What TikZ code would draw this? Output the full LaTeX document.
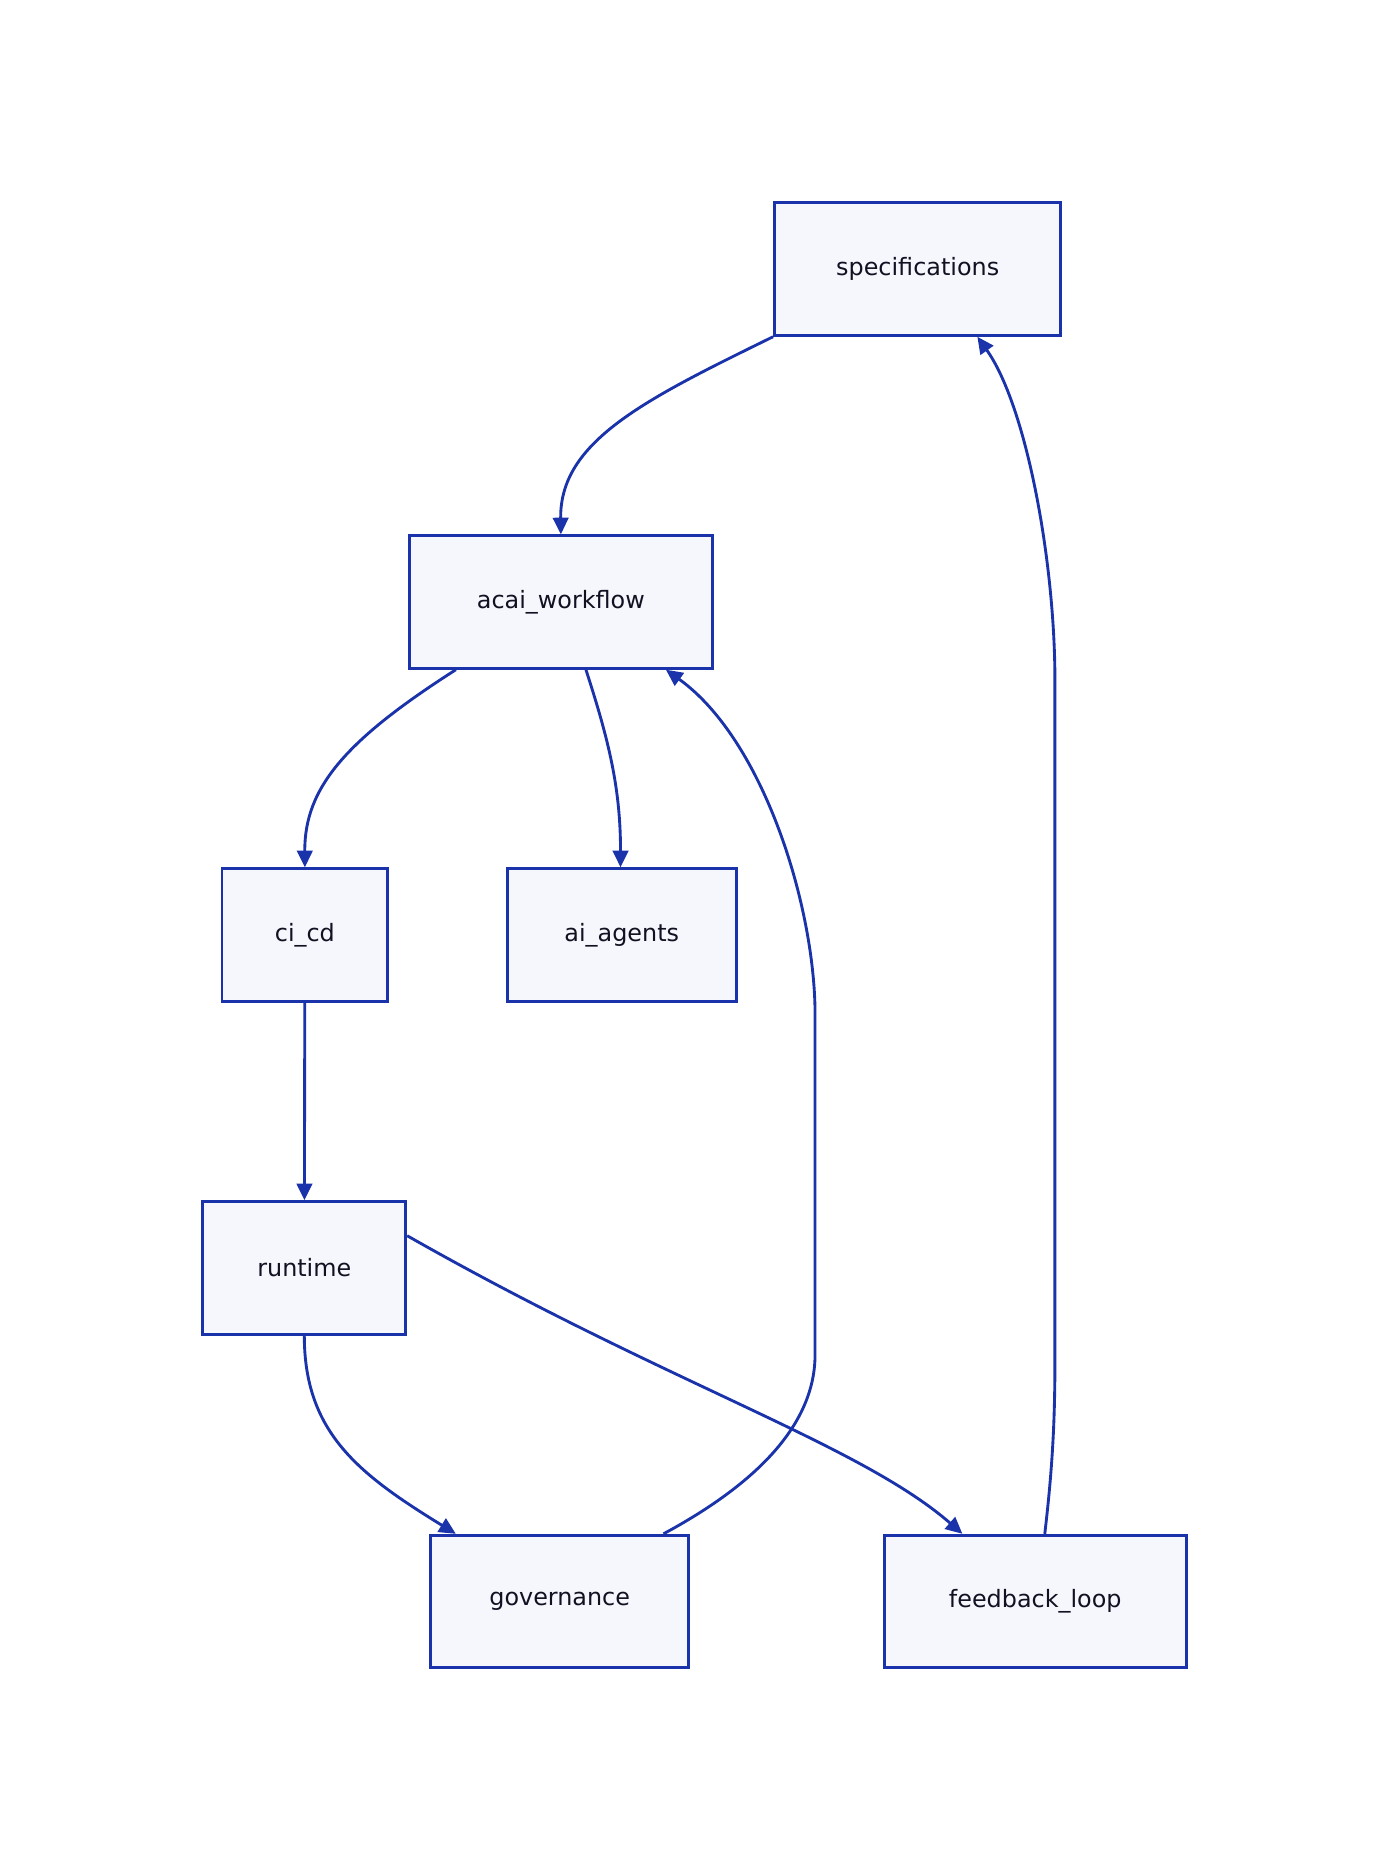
\documentclass[tikz,border=0pt]{standalone}
\usepackage{fontspec}
\setmainfont{DejaVu Sans}
\usetikzlibrary{arrows.meta}
\definecolor{edge}{HTML}{1A33AA}
\definecolor{boxfill}{HTML}{F5F7FC}
\definecolor{txt}{HTML}{111122}
\begin{document}
\begin{tikzpicture}[x=1pt,y=-1pt,
  box/.style={draw=edge,fill=boxfill,line width=2.4pt,font=\fontsize{20}{24}\selectfont,text=txt,inner sep=0pt,minimum height=111pt},
  arr/.style={draw=edge,line width=2.4pt,-{Triangle[length=14pt,width=13pt]}},
  ln/.style={draw=edge,line width=2.4pt}]
\useasboundingbox (0,0) rectangle (1160,1562);
\node[box,minimum width=240pt] (spec) at (769,225.5) {specifications};
\node[box,minimum width=254pt] (acai) at (470,504.5) {acai\_workflow};
\node[box,minimum width=139pt] (cicd) at (255.5,783.5) {ci\_cd};
\node[box,minimum width=192pt] (agents) at (521,783.5) {ai\_agents};
\node[box,minimum width=170pt] (run) at (255,1062.5) {runtime};
\node[box,minimum width=216pt] (gov) at (469,1342) {governance};
\node[box,minimum width=253pt] (fb) at (867.5,1342) {feedback\_loop};
\draw[arr] (spec.south west) .. controls (540,335) and (469,370) .. (acai.north);
\draw[arr] ([xshift=-88pt]acai.south) .. controls (290,620) and (255,660) .. (cicd.north);
\draw[arr] ([xshift=21pt]acai.south) .. controls (510,620) and (520,660) .. ([xshift=-1pt]agents.north);
\draw[arr] (cicd) -- (run);
\draw[arr] (run.south) .. controls (255,1200) and (300,1235) .. ([xshift=-87pt]gov.north);
\draw[arr] ([yshift=27pt]run.east) .. controls (560,1160) and (720,1210) .. ([xshift=-61pt]fb.north);
\draw[arr] ([xshift=87pt]gov.north) .. controls (640,1240) and (683,1190) .. (683,1135) -- (683,850) .. controls (683,760) and (640,620) .. ([xshift=88pt]acai.south);
\draw[arr] ([xshift=8pt]fb.north) .. controls (882,1230) and (884,1190) .. (884,1140) -- (884,570) .. controls (884,470) and (860,340) .. ([xshift=50pt]spec.south);
\end{tikzpicture}
\end{document}
